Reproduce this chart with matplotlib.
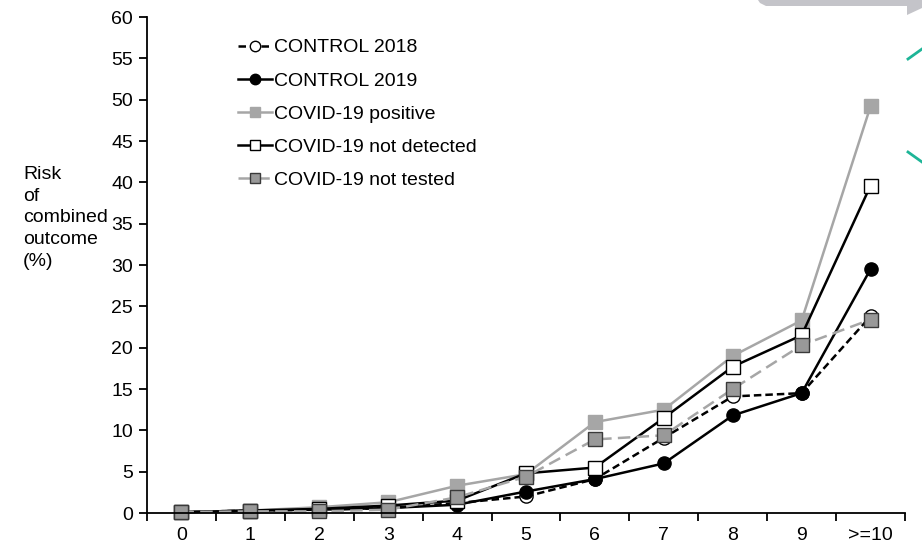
import matplotlib
matplotlib.use("Agg")
import matplotlib.pyplot as plt
from matplotlib.lines import Line2D
from matplotlib.patches import Polygon

plt.rcParams['font.family'] = ['Liberation Sans', 'DejaVu Sans']

categories = ["0", "1", "2", "3", "4", "5", "6", "7", "8", "9", ">=10"]

control_2018 = [0.1, 0.3, 0.4, 0.6, 1.2, 2.0, 4.1, 9.1, 14.1, 14.5, 23.8]
control_2019 = [0.1, 0.3, 0.4, 0.6, 1.0, 2.6, 4.1, 6.0, 11.8, 14.5, 29.5]
covid_positive = [0.1, 0.3, 0.7, 1.3, 3.3, 4.7, 11.0, 12.5, 19.0, 23.3, 49.2]
covid_not_detected = [0.1, 0.3, 0.5, 0.9, 1.5, 4.8, 5.5, 11.5, 17.7, 21.5, 39.6]
covid_not_tested = [0.1, 0.2, 0.2, 0.4, 1.9, 4.4, 8.9, 9.4, 15.0, 20.3, 23.4]

series_labels = ["CONTROL 2018", "CONTROL 2019", "COVID-19 positive",
                 "COVID-19 not detected", "COVID-19 not tested"]

light_gray = "#A6A6A6"
mid_gray = "#999999"
dark_edge = "#3A3A3A"
FS = 14

styles = [
    dict(color="black", ls=(0, (3, 1.6)), lw=1.8, marker="o", ms=9.5,
         mfc="white", mec="black", mew=1.0),
    dict(color="black", ls="-", lw=1.8, marker="o", ms=9.5,
         mfc="black", mec="black", mew=1.0),
    dict(color=light_gray, ls="-", lw=1.8, marker="s", ms=9.5,
         mfc=light_gray, mec=light_gray, mew=1.0),
    dict(color="black", ls="-", lw=1.8, marker="s", ms=9.5,
         mfc="white", mec="black", mew=1.0),
    dict(color=light_gray, ls=(0, (5, 2.5)), lw=1.8, marker="s", ms=9.5,
         mfc=mid_gray, mec=dark_edge, mew=1.0),
]

series = [control_2018, control_2019, covid_positive, covid_not_detected, covid_not_tested]

fig = plt.figure(figsize=(9.22, 5.47), dpi=100)
ax = fig.add_axes([147 / 922, 1 - 513 / 547, (905 - 147) / 922, (513 - 17) / 547])

x = list(range(len(categories)))
for vals, st, lab in zip(series, styles, series_labels):
    ax.plot(x, vals, label=lab, clip_on=False, **st)

ax.set_xlim(-0.5, len(categories) - 0.5)
ax.set_ylim(0, 60)
ax.set_yticks(range(0, 61, 5))
ax.set_xticks(x)
ax.set_xticklabels(categories)
ax.set_xticks([i - 0.5 for i in range(len(categories) + 1)], minor=True)
ax.tick_params(axis="x", which="major", length=0, pad=10, labelsize=FS)
ax.tick_params(axis="x", which="minor", length=6, width=1.3, direction="out")
ax.tick_params(axis="y", which="major", length=6, width=1.3, direction="out",
               pad=4, labelsize=FS)
for side in ("top", "right"):
    ax.spines[side].set_visible(False)
for side in ("left", "bottom"):
    ax.spines[side].set_linewidth(1.3)

fig.text(23 / 922, 1 - 166 / 547, "Risk\nof\ncombined\noutcome\n(%)",
         ha="left", va="top", fontsize=FS, linespacing=1.36)

# Legend with compact markers
handles = []
for st, lab in zip(styles, series_labels):
    h_st = dict(st)
    h_st["ms"] = 7.5
    handles.append(Line2D([], [], label=lab, **h_st))
leg = ax.legend(handles=handles, loc="upper left",
                bbox_to_anchor=((230 - 147) / 758, 1 - (31 - 17) / 496),
                frameon=False, fontsize=FS, handlelength=1.75,
                handletextpad=0.1, labelspacing=0.8, borderaxespad=0)

# Window decoration in the upper right corner
fig.patches.append(Polygon(
    [[758 / 922, 1.0], [922 / 922, 1.0], [922 / 922, 1 - 8 / 547],
     [907 / 922, 1 - 15 / 547], [907 / 922, 1 - 6 / 547],
     [766 / 922, 1 - 6 / 547], [760 / 922, 1 - 3 / 547]],
    closed=True, transform=fig.transFigure, facecolor="#C4C4C9",
    edgecolor="none"))
fig.lines.append(Line2D([908 / 922, 922 / 922], [1 - 59 / 547, 1 - 49 / 547],
                        transform=fig.transFigure, color="#1DB597", lw=2))
fig.lines.append(Line2D([908 / 922, 922 / 922], [1 - 152 / 547, 1 - 162 / 547],
                        transform=fig.transFigure, color="#1DB597", lw=2))

fig.savefig("out.png", dpi=100)
